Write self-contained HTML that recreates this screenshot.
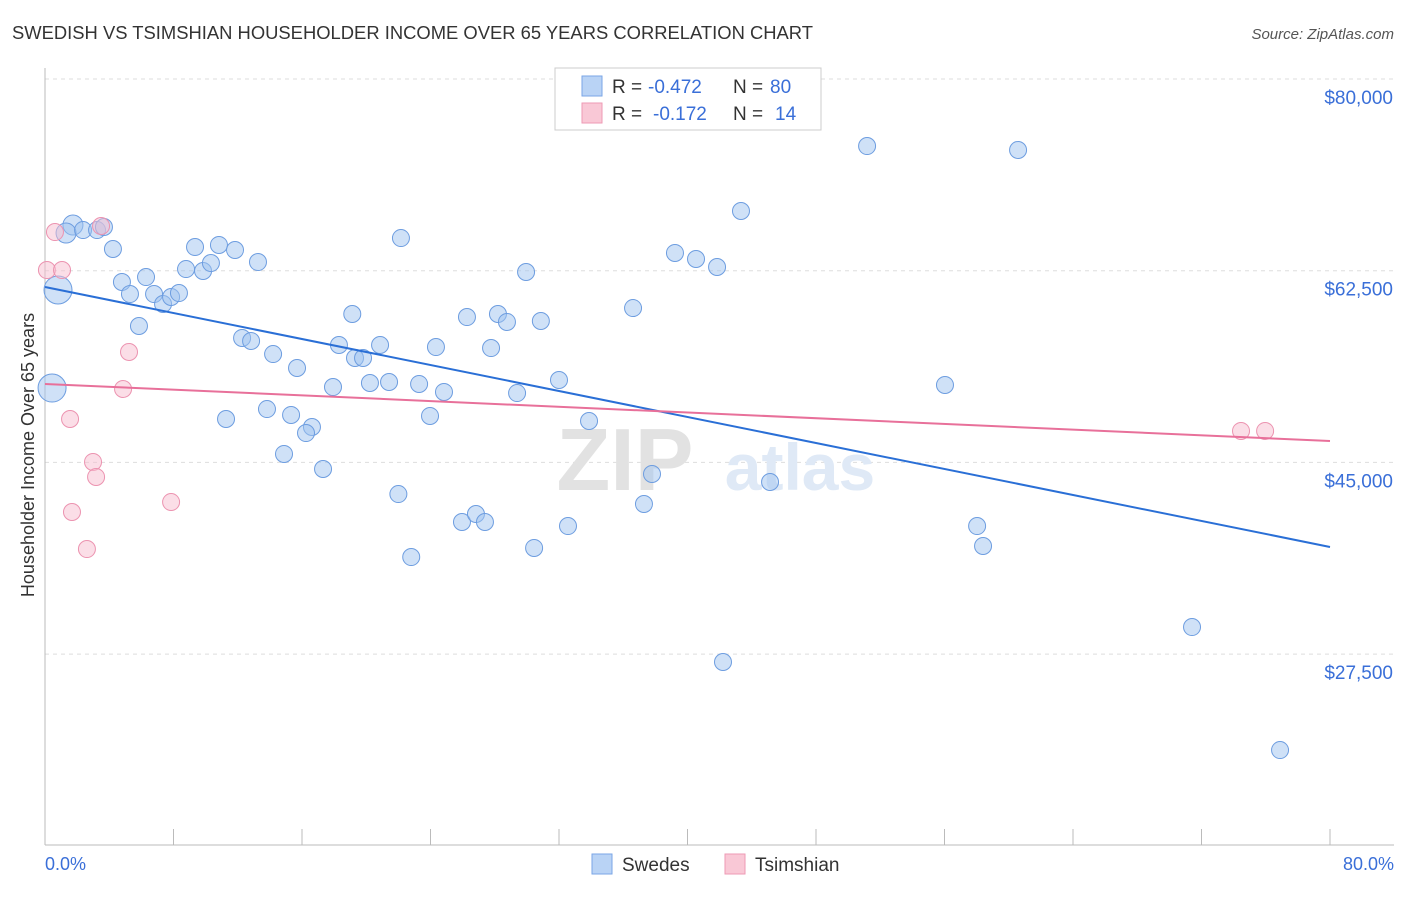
<!DOCTYPE html>
<html><head><meta charset="utf-8"><style>
body{margin:0;background:#fff;font-family:"Liberation Sans",sans-serif;}
svg text{font-family:"Liberation Sans",sans-serif;}
</style></head><body>
<svg width="1406" height="892" xmlns="http://www.w3.org/2000/svg">
<text x="12" y="39" font-size="18" fill="#333" textLength="801" lengthAdjust="spacingAndGlyphs">SWEDISH VS TSIMSHIAN HOUSEHOLDER INCOME OVER 65 YEARS CORRELATION CHART</text>
<text x="1394" y="39" font-size="15" fill="#555" font-style="italic" text-anchor="end">Source: ZipAtlas.com</text>
<g id="grid"></g>
<g><text x="625" y="490" font-size="88" fill="#e2e2e2" font-family="Liberation Serif" text-anchor="middle" font-weight="bold">ZIP</text><text x="800" y="490" font-size="66" fill="#dfe9f6" text-anchor="middle" font-weight="bold">atlas</text></g>
<line x1="45" y1="68" x2="45" y2="845" stroke="#bbb"/>
<line x1="45" y1="845" x2="1394" y2="845" stroke="#bbb"/>
<text transform="translate(34,455) rotate(-90)" font-size="18" fill="#333" text-anchor="middle">Householder Income Over 65 years</text>
<text x="45" y="870" font-size="18" fill="#3a6fd8">0.0%</text>
<text x="1394" y="870" font-size="18" fill="#3a6fd8" text-anchor="end">80.0%</text>
<g id="pts"></g>
<g id="lines"></g>
<g>
<rect x="555" y="68" width="266" height="62" fill="#fff" stroke="#ccc"/>
<rect x="582" y="76" width="20" height="20" fill="#b9d3f5" stroke="#7aa6e6"/>
<rect x="582" y="103" width="20" height="20" fill="#f9c8d6" stroke="#ee9ab4"/>
<text x="612" y="93" font-size="19" fill="#333">R =</text>
<text x="648" y="93" font-size="19" fill="#3a6fd8">-0.472</text>
<text x="733" y="93" font-size="19" fill="#333">N =</text>
<text x="770" y="93" font-size="19" fill="#3a6fd8">80</text>
<text x="612" y="120" font-size="19" fill="#333">R =</text>
<text x="653" y="120" font-size="19" fill="#3a6fd8">-0.172</text>
<text x="733" y="120" font-size="19" fill="#333">N =</text>
<text x="775" y="120" font-size="19" fill="#3a6fd8">14</text>
</g>
<g>
<rect x="592" y="854" width="20" height="20" fill="#b9d3f5" stroke="#7aa6e6"/>
<text x="622" y="871" font-size="19" fill="#333">Swedes</text>
<rect x="725" y="854" width="20" height="20" fill="#f9c8d6" stroke="#ee9ab4"/>
<text x="755" y="871" font-size="19" fill="#333">Tsimshian</text>
</g>
</svg>
<script>
const yTicks=[80000,62500,45000,27500];
const yTickLabels=["$80,000","$62,500","$45,000","$27,500"];
const xTicks=[0,8,16,24,32,40,48,56,64,72,80];
const swedesX=[1.74,1.31,2.37,3.24,3.67,4.23,0.81,0.44,4.79,5.29,6.29,6.79,7.35,7.85,8.34,5.85,8.78,9.34,9.84,10.33,10.83,11.83,13.26,12.27,12.83,11.27,14.20,15.69,13.82,15.32,16.62,16.25,14.88,17.31,19.13,18.30,19.30,19.80,20.86,17.93,20.23,21.42,23.29,24.84,23.97,22.16,24.34,26.27,27.77,28.20,28.76,30.87,29.95,29.39,32.00,33.87,22.00,22.80,25.96,26.83,27.39,30.45,32.56,36.61,39.22,40.53,41.84,43.33,37.79,37.29,45.14,42.21,51.18,60.58,56.03,58.03,58.40,71.41,76.89];
const swedesY=[66.67,65.94,66.21,66.21,66.49,64.48,60.74,51.79,61.47,60.37,61.92,60.37,59.46,60.10,60.46,57.45,62.65,64.66,62.47,63.20,64.85,64.39,63.29,56.36,56.08,48.96,54.89,53.62,49.87,49.33,48.23,47.68,45.77,44.40,58.55,55.72,54.53,54.53,55.72,51.88,52.25,52.34,52.16,51.43,49.24,65.48,55.53,58.27,55.44,58.55,57.82,57.91,62.38,51.33,52.52,48.78,42.11,36.36,39.56,40.29,39.56,37.19,39.19,59.09,64.12,63.57,62.84,67.95,43.94,41.20,43.21,26.78,73.88,73.52,52.07,39.19,37.37,29.97,18.74];
const swedesSize=[10,10,8.5,8.5,8.5,8.5,14,14];
const tsimX=[0.62,0.12,1.06,3.49,5.23,4.86,1.56,2.99,3.18,1.68,2.61,7.85,74.46,75.96];
const tsimY=[66.03,62.56,62.56,66.58,55.08,51.70,48.96,45.04,43.67,40.47,37.09,41.38,47.87,47.87];
const swedesTrend=[61.01,37.28];
const tsimTrend=[52.16,46.95];
const NS="http://www.w3.org/2000/svg";
function xs(p){return 45+p/80*1285;}
function ys(k){return 79+(80-k)/17.5*191.7;}
const grid=document.getElementById('grid');
yTicks.forEach((v,i)=>{
 const l=document.createElementNS(NS,'line');
 l.setAttribute('x1',45);l.setAttribute('x2',1394);l.setAttribute('y1',ys(v/1000));l.setAttribute('y2',ys(v/1000));
 l.setAttribute('stroke','#ddd');l.setAttribute('stroke-dasharray','4,4');
 
 
 grid.appendChild(l);
 const t=document.createElementNS(NS,'text');
 t.setAttribute('x',1393);t.setAttribute('y',ys(v/1000)+25);t.setAttribute('text-anchor','end');
 t.setAttribute('font-size','19');t.setAttribute('fill','#3a6fd8');t.textContent=yTickLabels[i];
 
 
 grid.appendChild(t);
});
xTicks.forEach(p=>{
 const l=document.createElementNS(NS,'line');
 l.setAttribute('x1',xs(p));l.setAttribute('x2',xs(p));l.setAttribute('y1',829);l.setAttribute('y2',845);
 l.setAttribute('stroke','#bbb');
 
 
 grid.appendChild(l);
});
const pts=document.getElementById('pts');
swedesX.forEach((x,i)=>{
 const c=document.createElementNS(NS,'circle');
 c.setAttribute('cx',xs(x));c.setAttribute('cy',ys(swedesY[i]));c.setAttribute('r',swedesSize[i]||8.5);
 c.setAttribute('fill','rgba(160,195,240,0.5)');c.setAttribute('stroke','#6d9de0');
 
 
 pts.appendChild(c);
});
tsimX.forEach((x,i)=>{
 const c=document.createElementNS(NS,'circle');
 c.setAttribute('cx',xs(x));c.setAttribute('cy',ys(tsimY[i]));c.setAttribute('r',8.5);
 c.setAttribute('fill','rgba(248,190,208,0.5)');c.setAttribute('stroke','#ec93b0');
 
 
 pts.appendChild(c);
});
const lines=document.getElementById('lines');
[[swedesTrend,'#2a6fd6','swedes-trend-line'],[tsimTrend,'#e8709a','tsimshian-trend-line']].forEach(([t,col,name])=>{
 const l=document.createElementNS(NS,'line');
 l.setAttribute('x1',xs(0));l.setAttribute('x2',xs(80));l.setAttribute('y1',ys(t[0]));l.setAttribute('y2',ys(t[1]));
 l.setAttribute('stroke',col);l.setAttribute('stroke-width','2');
 
 
 lines.appendChild(l);
});
</script>
</body></html>
